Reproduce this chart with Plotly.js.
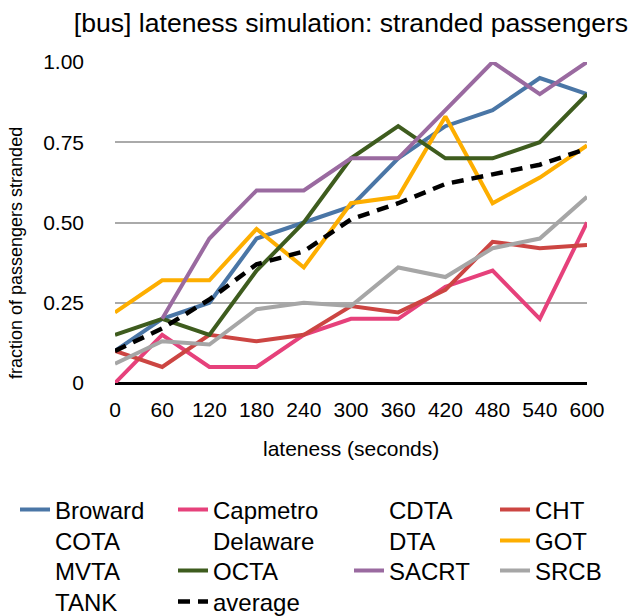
<!DOCTYPE html>
<html>
<head>
<meta charset="utf-8">
<script src="https://cdn.plot.ly/plotly-3.0.1.min.js"></script>
<style>html,body{margin:0;padding:0;background:#fff}#chart{width:629px;height:616px}</style>
</head>
<body>
<div id="chart"></div>
<script>
const lateness = [0, 60, 120, 180, 240, 300, 360, 420, 480, 540, 600];
const broward  = [0.10, 0.20, 0.25, 0.45, 0.50, 0.55, 0.70, 0.80, 0.85, 0.95, 0.90];
const capmetro = [0.00, 0.15, 0.05, 0.05, 0.15, 0.20, 0.20, 0.30, 0.35, 0.20, 0.50];
const cht      = [0.10, 0.05, 0.15, 0.13, 0.15, 0.24, 0.22, 0.29, 0.44, 0.42, 0.43];
const got      = [0.22, 0.32, 0.32, 0.48, 0.36, 0.56, 0.58, 0.83, 0.56, 0.64, 0.74];
const octa     = [0.15, 0.20, 0.15, 0.35, 0.50, 0.70, 0.80, 0.70, 0.70, 0.75, 0.90];
const sacrt    = [null, 0.20, 0.45, 0.60, 0.60, 0.70, 0.70, 0.85, 1.00, 0.90, 1.00];
const srcb     = [0.06, 0.13, 0.12, 0.23, 0.25, 0.24, 0.36, 0.33, 0.42, 0.45, 0.58];
const average  = [0.10, 0.17, 0.26, 0.37, 0.41, 0.51, 0.56, 0.62, 0.65, 0.68, 0.73];
const empty    = [null, null, null, null, null, null, null, null, null, null, null];
const yTickVals = [0, 0.25, 0.5, 0.75, 1.0];
const yTickText = ['0', '0.25', '0.50', '0.75', '1.00'];

const FONT = 'Liberation Sans, Arial, sans-serif';
const NONE = 'rgba(0,0,0,0)';
const W = 629, H = 616;

// legend grid: 4 per row, row-major
const colText = [55, 213, 389, 535];
const rowMid = [510, 541, 571, 602];

const series = [
  ['Broward', broward, '#4a76a6'],
  ['Capmetro', capmetro, '#e6417b'],
  ['CDTA', empty, NONE],
  ['CHT', cht, '#cc4542'],
  ['COTA', empty, NONE],
  ['Delaware', empty, NONE],
  ['DTA', empty, NONE],
  ['GOT', got, '#fdae00'],
  ['MVTA', empty, NONE],
  ['OCTA', octa, '#3e5c1e'],
  ['SACRT', sacrt, '#9a6aa0'],
  ['SRCB', srcb, '#a6a6a6'],
  ['TANK', empty, NONE],
  ['average', average, '#000000']
];

const data = [];
const layout = {
  width: W, height: H,
  margin: {l: 115, r: 42, t: 62, b: 233, autoexpand: false},
  paper_bgcolor: '#fff', plot_bgcolor: '#fff',
  font: {family: FONT, color: '#000'},
  title: {text: '[bus] lateness simulation: stranded passengers',
          font: {family: FONT, size: 26.6, color: '#000'},
          xref: 'paper', x: 0.5, xanchor: 'center',
          yref: 'container', y: 1 - 23 / H, yanchor: 'middle'},
  xaxis: {range: [0, 600], tickvals: lateness, ticktext: lateness.map(String),
          showgrid: false, zeroline: false, showline: false, ticks: '',
          ticklabelstandoff: 12, tickfont: {family: FONT, size: 21, color: '#000'},
          fixedrange: true},
  yaxis: {range: [0, 1], tickvals: yTickVals, ticktext: yTickText,
          showgrid: true, gridcolor: '#aaaaaa', gridwidth: 2,
          zeroline: true, zerolinecolor: '#000', zerolinewidth: 3,
          showline: false, ticks: '', ticklabelstandoff: 30,
          tickfont: {family: FONT, size: 21, color: '#000'}, fixedrange: true},
  annotations: [
    {text: 'fraction of passengers stranded', xref: 'paper', yref: 'paper',
     x: -99 / 472, y: (383 - 253) / 321, xanchor: 'center', yanchor: 'middle',
     textangle: -90, showarrow: false, font: {family: FONT, size: 18, color: '#000'}},
    {text: 'lateness (seconds)', xref: 'paper', yref: 'paper',
     x: 0.5, y: (383 - 448) / 321, xanchor: 'center', yanchor: 'middle',
     showarrow: false, font: {family: FONT, size: 21, color: '#000'}}
  ],
  showlegend: true
};

series.forEach(function (s, i) {
  const key = i === 0 ? 'legend' : 'legend' + (i + 1);
  const isAvg = s[0] === 'average';
  data.push({
    type: 'scatter', mode: 'lines', name: s[0], x: lateness, y: s[1],
    line: isAvg ? {color: s[2], width: 4.5, dash: '12px,8px'} : {color: s[2], width: 4},
    legend: key, cliponaxis: false
  });
  const col = i % 4, row = Math.floor(i / 4);
  layout[key] = {
    xref: 'container', yref: 'container',
    x: (colText[col] - 40) / W, y: 1 - rowMid[row] / H,
    xanchor: 'left', yanchor: 'middle', orientation: 'v',
    font: {family: FONT, size: 24, color: '#000'}, bgcolor: 'rgba(0,0,0,0)',
    borderwidth: 0, itemwidth: 30
  };
});

Plotly.newPlot('chart', data, layout, {displayModeBar: false, staticPlot: true});
</script>
</body>
</html>
